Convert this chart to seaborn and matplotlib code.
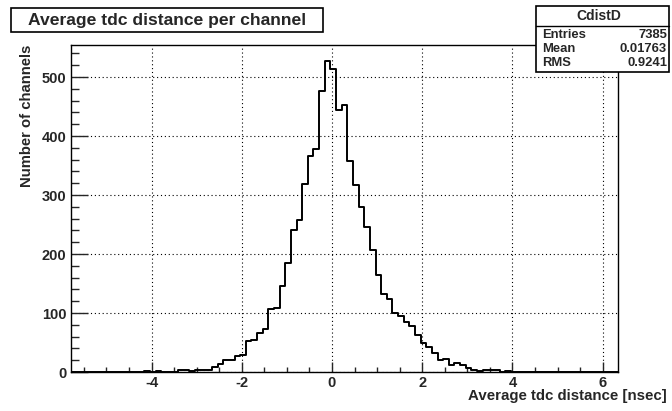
import numpy as np
import pandas as pd
import matplotlib
matplotlib.use("Agg")
import matplotlib.pyplot as plt
import seaborn as sns
from matplotlib.patches import Rectangle
from matplotlib.ticker import MultipleLocator

# histogram binning and bin contents
bin_low = -5.785
bin_width = 0.125
counts = [
    0, 0, 0, 0, 0, 0, 0, 0, 0, 0,
    0, 0, 0, 2, 0, 2, 0, 0, 0, 4,
    4, 1, 4, 4, 4, 8, 13, 21, 21, 27,
    29, 53, 55, 66, 73, 107, 109, 145, 185, 240,
    258, 319, 366, 378, 476, 528, 514, 445, 453, 358,
    317, 280, 246, 206, 164, 133, 124, 100, 95, 84,
    78, 62, 49, 42, 33, 21, 22, 12, 15, 12,
    7, 4, 2, 4, 4, 4, 0, 2, 0, 0,
    0, 0, 0, 0, 0, 0, 0, 0, 0, 0,
    0, 0, 0, 0, 0, 0, 0,
]

title = "Average tdc distance per channel"
x_title = "Average tdc distance [nsec]"
y_title = "Number of channels"
stats_name = "CdistD"
stats_labels = ["Entries", "Mean", "RMS"]
stats_values = ["7385", "0.01763", "0.9241"]

W, H = 672, 411

edges = bin_low + bin_width * np.arange(len(counts) + 1)
centers = 0.5 * (edges[:-1] + edges[1:])
df = pd.DataFrame({"x": centers, "n": counts})

sns.set_style("white")
plt.rcParams["font.family"] = ["Liberation Sans", "DejaVu Sans"]
plt.rcParams["font.weight"] = "bold"
plt.rcParams["axes.unicode_minus"] = False

fig = plt.figure(figsize=(W / 100, H / 100), dpi=100)
ax = fig.add_axes([71 / W, 39 / H, 547 / W, 327 / H])

sns.histplot(data=df, x="x", weights="n", bins=edges.tolist(), element="step",
             fill=False, color="black", linewidth=1.4, ax=ax)

ax.set_xlim(edges[0], edges[-1])
ax.set_ylim(0, 1.05 * max(counts))
ax.set_xlabel("")
ax.set_ylabel("")

ax.xaxis.set_major_locator(MultipleLocator(2))
ax.xaxis.set_minor_locator(MultipleLocator(0.5))
ax.yaxis.set_major_locator(MultipleLocator(100))
ax.yaxis.set_minor_locator(MultipleLocator(20))
ax.tick_params(axis="x", which="major", direction="in", length=7.5, width=1,
               labelsize=10.5, pad=3, bottom=True, top=False)
ax.tick_params(axis="x", which="minor", direction="in", length=3.8, width=1,
               bottom=True, top=False)
ax.tick_params(axis="y", which="major", direction="in", length=12, width=1,
               labelsize=10.5, pad=3.5, left=True, right=False)
ax.tick_params(axis="y", which="minor", direction="in", length=6, width=1,
               left=True, right=False)
ax.grid(True, which="major", color="black", linestyle=(0, (1, 2.5)), linewidth=0.8)
for s in ax.spines.values():
    s.set_color("black")
    s.set_linewidth(1.0)

# axis titles, ROOT style (at the ends of the axes)
fig.text(667 / W, 1 - 396 / H, x_title, ha="right", va="center",
         fontsize=10.8, fontweight="bold")
fig.text(27 / W, 1 - 45 / H, y_title, ha="center", va="top", rotation=90,
         fontsize=10.7, fontweight="bold")

# title box
fig.add_artist(Rectangle((11 / W, 1 - 32 / H), 312 / W, 24 / H,
                         transform=fig.transFigure, facecolor="white",
                         edgecolor="black", linewidth=1.2))
fig.text(167 / W, 1 - 20 / H, title, ha="center", va="center",
         fontsize=12.6, fontweight="bold")

# stats box
fig.add_artist(Rectangle((536 / W, 1 - 72 / H), 133 / W, 66 / H,
                         transform=fig.transFigure, facecolor="white",
                         edgecolor="black", linewidth=1.2, zorder=5))
fig.add_artist(plt.Line2D([536 / W, 669 / W], [1 - 26 / H, 1 - 26 / H],
                          transform=fig.transFigure, color="black",
                          linewidth=1.0, zorder=6))
fig.text(599 / W, 1 - 15.5 / H, stats_name, ha="center", va="center",
         fontsize=10, fontweight="bold", zorder=7)
for i, (lab, val) in enumerate(zip(stats_labels, stats_values)):
    y = 1 - (34.5 + 14.5 * i) / H
    fig.text(542 / W, y, lab, ha="left", va="center", fontsize=9.4,
             fontweight="bold", zorder=7)
    fig.text(667 / W, y, val, ha="right", va="center", fontsize=9.4,
             fontweight="bold", zorder=7)

fig.savefig("out.png", dpi=100, facecolor="white")
